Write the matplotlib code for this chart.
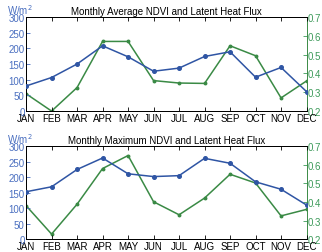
import matplotlib
matplotlib.use('Agg')
import matplotlib.pyplot as plt
import numpy as np

plt.rcParams['font.family'] = ['Liberation Sans', 'DejaVu Sans']

months = ['JAN', 'FEB', 'MAR', 'APR', 'MAY', 'JUN', 'JUL', 'AUG', 'SEP', 'OCT', 'NOV', 'DEC']

# latent heat flux (W/m2), left axis
avg_le = [80, 107, 150, 208, 173, 127, 137, 174, 189, 108, 139, 62]
max_le = [153, 169, 225, 262, 211, 202, 205, 261, 245, 185, 161, 110]
# NDVI, right axis
avg_ndvi = [0.292, 0.200, 0.325, 0.570, 0.570, 0.362, 0.349, 0.347, 0.547, 0.494, 0.270, 0.360]
max_ndvi = [0.380, 0.227, 0.388, 0.580, 0.650, 0.401, 0.331, 0.421, 0.549, 0.502, 0.325, 0.360]

titles = ['Monthly Average NDVI and Latent Heat Flux', 'Monthly Maximum NDVI and Latent Heat Flux']

BLUE = '#2f55a4'
GREEN = '#3a8a45'
LBLUE = '#4a6fc0'
LGREEN = '#3d9a5a'

fig = plt.figure(figsize=(3.22, 2.53), dpi=100)
boxes = [[0.081, 0.557, 0.871, 0.372], [0.081, 0.051, 0.871, 0.367]]
x = np.arange(len(months))

for box, title, le, ndvi in zip(boxes, titles, [avg_le, max_le], [avg_ndvi, max_ndvi]):
    ax = fig.add_axes(box)
    ax2 = ax.twinx()
    ax.plot(x, le, color=BLUE, lw=1.1, marker='o', ms=2.6, zorder=3)
    ax2.plot(x, ndvi, color=GREEN, lw=1.1, marker='o', ms=1.8)
    ax.set_zorder(ax2.get_zorder() + 1)
    ax.patch.set_visible(False)

    ax.set_xlim(0, 11)
    ax.set_ylim(0, 300)
    ax2.set_ylim(0.2, 0.7)
    ax.set_xticks(x)
    ax.set_xticklabels(months)
    ax.set_yticks(np.arange(0, 301, 50))
    ax2.set_yticks(np.arange(0.2, 0.71, 0.1))
    ax2.set_yticklabels(['0.2', '0.3', '0.4', '0.5', '0.6', '0.7'])

    ax.tick_params(axis='x', direction='in', length=3, labelsize=7, pad=1.5, top=True, width=0.6)
    ax.tick_params(axis='y', direction='in', length=3, labelsize=7, pad=1, colors=LBLUE, width=0.6)
    ax2.tick_params(axis='y', direction='in', length=3, labelsize=7, pad=1, colors=LGREEN, width=0.6)

    for a in (ax, ax2):
        for s in a.spines.values():
            s.set_linewidth(0.7)
    ax2.spines['right'].set_color(GREEN)
    ax.spines['right'].set_visible(False)

    ax.set_title(title, fontsize=7, pad=2)
    ax.text(-0.068, 1.01, 'W/m$^2$', transform=ax.transAxes, fontsize=7, color=LBLUE,
            ha='left', va='bottom')

fig.savefig('out.png', dpi=100)
